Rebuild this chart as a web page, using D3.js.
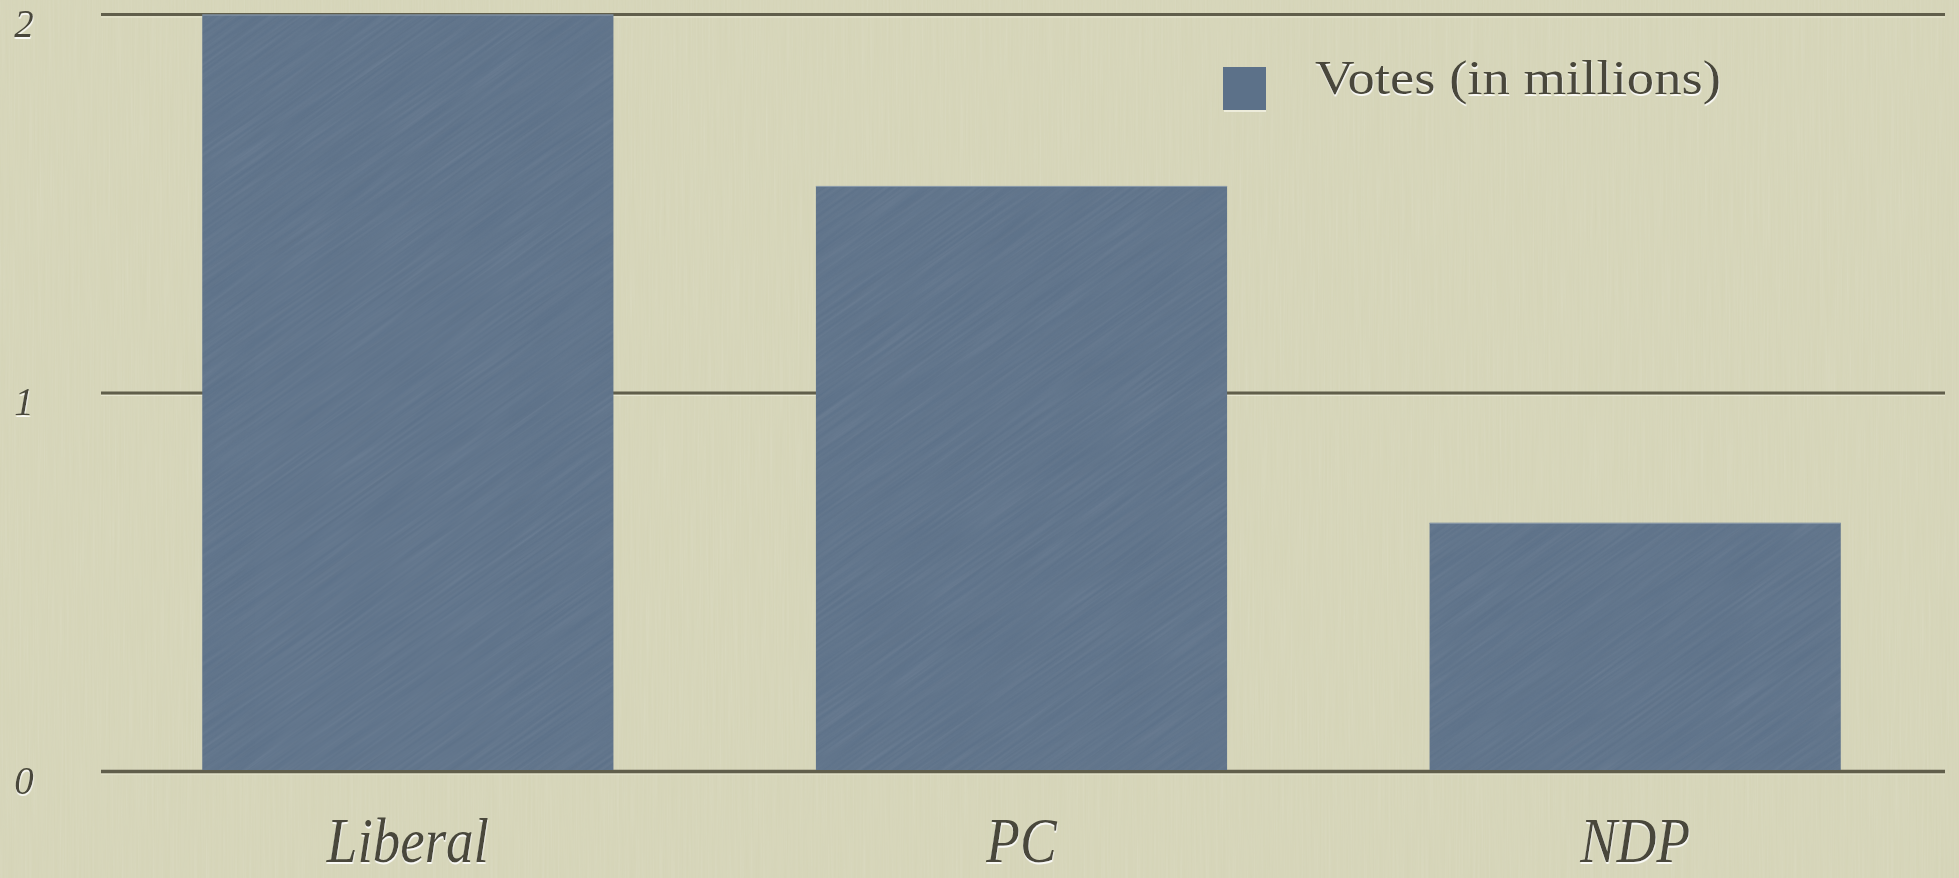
<!DOCTYPE html>
<html>
<head>
<meta charset="utf-8">
<script src="https://cdn.jsdelivr.net/npm/d3@7"></script>
<style>
  html, body { margin: 0; padding: 0; background: #d5d4b7; }
  svg { display: block; }
</style>
</head>
<body>
<svg id="chart" width="1959" height="878"></svg>
<script>
// ---- data ----
const categories = ["Liberal", "PC", "NDP"];
const votes = [2.0, 1.547, 0.657];
const yTicks = [0, 1, 2];
const yTickLabels = ["0", "1", "2"];
const seriesName = "Votes (in millions)";

// ---- layout ----
const W = 1959, H = 878;
const plot = { left: 101, right: 1945, top: 14.5, bottom: 771.5 };
const svg = d3.select("#chart");
const defs = svg.append("defs");

// paper texture
const paper = defs.append("filter").attr("id", "paper")
  .attr("x", 0).attr("y", 0).attr("width", "100%").attr("height", "100%");
paper.append("feTurbulence").attr("type", "fractalNoise")
  .attr("baseFrequency", "0.55 0.012").attr("numOctaves", 3).attr("seed", 7);
paper.append("feColorMatrix").attr("type", "saturate").attr("values", 0);

// bar streak texture
const streak = defs.append("filter").attr("id", "streak")
  .attr("x", 0).attr("y", 0).attr("width", "100%").attr("height", "100%");
streak.append("feTurbulence").attr("type", "fractalNoise")
  .attr("baseFrequency", "0.012 0.35").attr("numOctaves", 2).attr("seed", 3);
streak.append("feColorMatrix").attr("type", "saturate").attr("values", 0);

// emboss shadow for text
const emb = defs.append("filter").attr("id", "emboss")
  .attr("x", "-10%").attr("y", "-10%").attr("width", "120%").attr("height", "130%");
emb.append("feDropShadow").attr("dx", 0.5).attr("dy", 2).attr("stdDeviation", 0.4)
  .attr("flood-color", "#ffffff").attr("flood-opacity", 0.85);

const clip = defs.append("clipPath").attr("id", "barsClip");

// background
svg.append("rect").attr("width", W).attr("height", H).attr("fill", "#d5d4b7");
svg.append("rect").attr("width", W).attr("height", H)
  .attr("filter", "url(#paper)").attr("opacity", 0.18)
  .style("mix-blend-mode", "overlay");

// ---- scales ----
const x = d3.scaleBand().domain(categories)
  .range([plot.left, 1942]).paddingInner(0.33).paddingOuter(0.165);
const y = d3.scaleLinear().domain([0, 2]).range([plot.bottom, plot.top]);

// gridlines
const grid = svg.append("g");
grid.selectAll("line.hl").data(yTicks).join("line")
  .attr("class", "hl")
  .attr("x1", plot.left).attr("x2", plot.right)
  .attr("y1", d => y(d) + 2.5).attr("y2", d => y(d) + 2.5)
  .attr("stroke", "#ecebd8").attr("stroke-width", 1.2).attr("opacity", 0.8);
grid.selectAll("line.gl").data(yTicks).join("line")
  .attr("class", "gl")
  .attr("x1", plot.left).attr("x2", plot.right)
  .attr("y1", d => y(d)).attr("y2", d => y(d))
  .attr("stroke", "#605e4b").attr("stroke-width", d => d === 0 ? 3.5 : 3.2);

// bars
const data = categories.map((c, i) => ({ c, v: votes[i] }));
svg.append("g").selectAll("rect").data(data).join("rect")
  .attr("x", d => x(d.c)).attr("width", x.bandwidth())
  .attr("y", d => y(d.v)).attr("height", d => y(0) - y(d.v) - 1.5)
  .attr("fill", "#5c7189");
clip.selectAll("rect").data(data).join("rect")
  .attr("x", d => x(d.c)).attr("width", x.bandwidth())
  .attr("y", d => y(d.v)).attr("height", d => y(0) - y(d.v) - 1.5);
svg.append("g").attr("clip-path", "url(#barsClip)")
  .append("rect")
  .attr("x", -400).attr("y", -400).attr("width", W + 800).attr("height", H + 800)
  .attr("filter", "url(#streak)").attr("opacity", 0.13)
  .attr("transform", `rotate(-35 ${W / 2} ${H / 2})`);
svg.append("g").selectAll("line").data(data).join("line")
  .attr("x1", d => x(d.c)).attr("x2", d => x(d.c) + x.bandwidth())
  .attr("y1", d => y(d.v) + 0.5).attr("y2", d => y(d.v) + 0.5)
  .attr("stroke", "#8d9cab").attr("stroke-width", 1);

// y tick labels
svg.append("g").selectAll("text").data(yTicks).join("text")
  .attr("x", 24).attr("y", d => y(d) + 22)
  .attr("text-anchor", "middle")
  .attr("font-family", "'Liberation Serif', serif")
  .attr("font-style", "italic")
  .attr("font-size", 39)
  .attr("fill", "#48473a")
  .attr("filter", "url(#emboss)")
  .text((d, i) => yTickLabels[i]);

// category labels
svg.append("g").selectAll("text").data(categories).join("text")
  .attr("transform", d => `translate(${x(d) + x.bandwidth() / 2},862) scale(0.86,1)`)
  .attr("text-anchor", "middle")
  .attr("font-family", "'Liberation Serif', serif")
  .attr("font-style", "italic")
  .attr("font-size", 64)
  .attr("fill", "#48473a")
  .attr("filter", "url(#emboss)")
  .text(d => d);

// legend
const lg = svg.append("g");
lg.append("rect").attr("x", 1223).attr("y", 67).attr("width", 43).attr("height", 43)
  .attr("fill", "#5c7189");
lg.append("line").attr("x1", 1224).attr("x2", 1266).attr("y1", 111).attr("y2", 111)
  .attr("stroke", "#f4f3e6").attr("stroke-width", 1.5);
lg.append("text")
  .attr("x", 1315).attr("y", 94)
  .attr("font-family", "'Liberation Serif', serif")
  .attr("font-size", 48)
  .attr("fill", "#48473a")
  .attr("textLength", 406).attr("lengthAdjust", "spacingAndGlyphs")
  .attr("filter", "url(#emboss)")
  .text(seriesName);
</script>
</body>
</html>
